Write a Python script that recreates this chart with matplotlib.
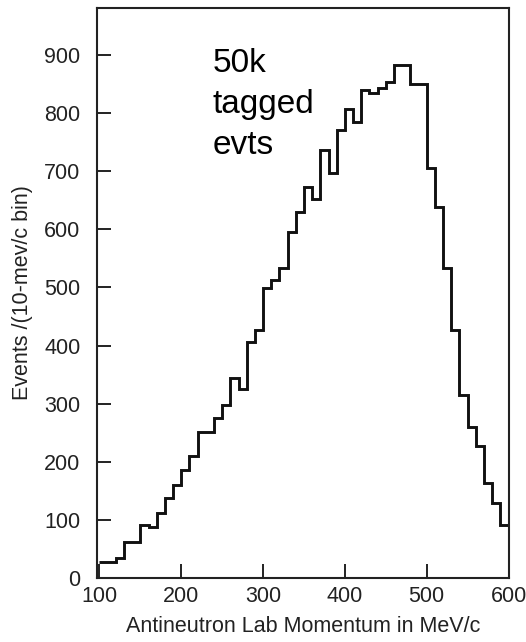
import numpy as np
import matplotlib
matplotlib.use("Agg")
import matplotlib.pyplot as plt

# Antineutron lab momentum spectrum, 10 MeV/c bins from 100 to 600 MeV/c
bin_edges = list(range(100, 601, 10))
counts = [27, 27, 34, 62, 62, 91, 87, 112, 137, 160,
          186, 210, 252, 252, 276, 298, 344, 326, 407, 427,
          499, 513, 533, 596, 630, 673, 652, 737, 697, 771,
          808, 784, 840, 835, 843, 854, 883, 883, 851, 851,
          705, 639, 533, 427, 315, 260, 227, 163, 129, 91]

x_ticks = [100, 200, 300, 400, 500, 600]
y_ticks = [0, 100, 200, 300, 400, 500, 600, 700, 800, 900]
x_label = "Antineutron Lab Momentum in MeV/c"
y_label = "Events /(10-mev/c bin)"
note = "50k\ntagged\nevts"

plt.rcParams['font.family'] = ['Liberation Sans', 'DejaVu Sans']

fig = plt.figure(figsize=(5.26, 6.42), dpi=100)
ax = fig.add_axes([97 / 526, 1 - 578 / 642, (508.5 - 97) / 526, (578 - 8) / 642])

ax.stairs(counts, bin_edges, color='#111111', linewidth=2.1, baseline=None)

ax.set_xlim(97, 600)
ax.set_ylim(0, 981)
ax.set_xticks(x_ticks)
ax.set_yticks(y_ticks)
ax.tick_params(direction='in', length=10, width=1.4, labelsize=15.5,
               colors='#222222')
ax.tick_params(axis='y', pad=12)
ax.tick_params(axis='x', pad=6)
for s in ax.spines.values():
    s.set_linewidth(1.5)
    s.set_color('#222222')

ax.set_xlabel(x_label, fontsize=15.5, color='#222222', labelpad=6)
ax.set_ylabel(y_label, fontsize=15.5, color='#222222', labelpad=8)

ax.text(238, 913, note, fontsize=24, va='top', ha='left', color='black',
        linespacing=1.42)

fig.savefig("out.png", dpi=100)
